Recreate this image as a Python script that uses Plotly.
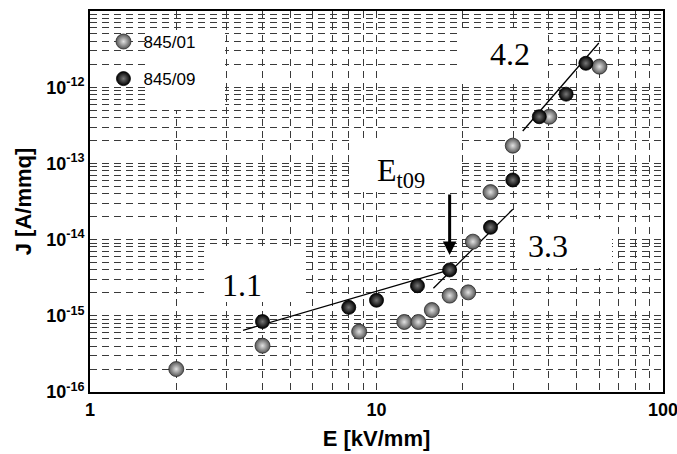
import numpy as np
import plotly.graph_objects as go

# ---- data ----
E01 = [2.0, 4.0, 8.7, 12.5, 14.0, 15.6, 18.0, 20.9, 21.7, 25.0, 29.9, 40.1, 60.0]
J01 = [2.0e-16, 4.05e-16, 6.2e-16, 8.3e-16, 8.3e-16, 1.19e-15, 1.84e-15, 2.03e-15,
       9.4e-15, 4.2e-14, 1.71e-13, 4.1e-13, 1.86e-12]
E09 = [4.0, 8.0, 10.0, 13.9, 18.0, 25.0, 29.9, 37.0, 45.9, 53.8]
J09 = [8.4e-16, 1.29e-15, 1.6e-15, 2.48e-15, 4.0e-15, 1.45e-14, 6.06e-14,
       4.1e-13, 8.1e-13, 2.06e-12]

fit1_E = [3.42, 18.5]
fit1_J = [6.45e-16, 4.13e-15]
fit2_E = [15.8, 29.9]
fit2_J = [2.3e-15, 2.5e-14]
fit3_E = [32.4, 59.7]
fit3_J = [2.66e-13, 3.8e-12]

series_names = ["845/01", "845/09"]
slope_labels = ["1.1", "3.3", "4.2"]
threshold_label = "E<sub>t09</sub>"
arrow_E = 18.0
arrow_J = 6.3e-15

x_tick_vals = [1, 10, 100]
x_tick_text = ["1", "10", "100"]
y_tick_exps = [-16, -15, -14, -13, -12]
y_tick_vals = [10.0 ** e for e in y_tick_exps]
y_tick_text = [f"10<sup>{e}</sup>" for e in y_tick_exps]

x_minor = [m * 10 ** d for d in range(0, 2) for m in range(2, 10)]
y_minor = [m * 10.0 ** d for d in range(-16, -11) for m in range(2, 10)]

GRID = "#3a3a3a"
DASH = "7px,5px"

fig = go.Figure()

for fx, fy in [(fit1_E, fit1_J), (fit2_E, fit2_J), (fit3_E, fit3_J)]:
    fig.add_trace(go.Scatter(x=fx, y=fy, mode="lines", showlegend=False,
                             line=dict(color="black", width=1.3), hoverinfo="skip"))

fig.add_trace(go.Scatter(
    x=E01, y=J01, mode="markers", name=series_names[0], legendgroup="a",
    marker=dict(size=15, color="#555555",
                gradient=dict(type="radial", color="#e2e2e2"),
                line=dict(color="#2a2a2a", width=0.8))))
fig.add_trace(go.Scatter(
    x=E09, y=J09, mode="markers", name=series_names[1], legendgroup="b",
    marker=dict(size=14, color="#000000",
                gradient=dict(type="radial", color="#777777"),
                line=dict(color="#000000", width=0.8))))

# white text boxes covering the grid (no marks fall inside them)
boxes = [(0.0995, 0.2356, 0.740, 0.950),   # legend text
         (0.6457, 0.7993, 0.8084, 0.9554),  # 4.2
         (0.459, 0.6405, 0.525, 0.6614),    # Et09
         (0.7417, 0.911, 0.3255, 0.454),    # 3.3
         (0.199, 0.375, 0.2362, 0.3832)]    # 1.1
for x0, x1, y0, y1 in boxes:
    fig.add_shape(type="rect", xref="paper", yref="paper",
                  x0=x0, x1=x1, y0=y0, y1=y1, layer="above",
                  fillcolor="white", line=dict(width=0))

serif = "Liberation Serif, Times New Roman, serif"
label_pos = [(0.265, 0.281), (0.799, 0.383), (0.733, 0.887)]
for txt, (px, py) in zip(slope_labels, label_pos):
    fig.add_annotation(text=txt, xref="paper", yref="paper", x=px, y=py,
                       xanchor="center", yanchor="middle",
                       showarrow=False, font=dict(family=serif, size=32, color="black"))
fig.add_annotation(text=threshold_label, xref="paper", yref="paper",
                   x=0.497, y=0.575, xanchor="left", yanchor="middle", showarrow=False,
                   font=dict(family=serif, size=32, color="black"))
fig.add_annotation(text="", x=np.log10(arrow_E), y=np.log10(arrow_J), xref="x", yref="y",
                   showarrow=True, ax=0, ay=-62, arrowhead=2, arrowsize=0.9,
                   arrowwidth=3, arrowcolor="black")

axis_font = dict(family="Arial, Liberation Sans, sans-serif", size=18, color="black", weight="bold")
title_font = dict(family="Arial, Liberation Sans, sans-serif", size=22, color="black", weight="bold")

fig.update_xaxes(type="log", range=[0, 2], tickmode="array", tickvals=x_tick_vals,
                 ticktext=x_tick_text, ticks="", tickfont=axis_font,
                 ticklabeloverflow="allow", automargin=False,
                 showgrid=True, gridcolor=GRID, gridwidth=1, griddash=DASH,
                 minor=dict(tickmode="array", tickvals=x_minor, showgrid=True,
                            gridcolor=GRID, gridwidth=1, griddash=DASH, ticks=""),
                 showline=True, linecolor="black", linewidth=2, mirror=True,
                 zeroline=False,
                 title=dict(text="E [kV/mm]", font=title_font, standoff=12))
fig.update_yaxes(type="log", range=[-16, -11], tickmode="array", tickvals=y_tick_vals,
                 ticktext=y_tick_text, ticks="", tickfont=axis_font, automargin=False,
                 showgrid=True, gridcolor=GRID, gridwidth=1, griddash=DASH,
                 minor=dict(tickmode="array", tickvals=y_minor, showgrid=True,
                            gridcolor=GRID, gridwidth=1, griddash=DASH, ticks=""),
                 showline=True, linecolor="black", linewidth=2, mirror=True,
                 zeroline=False,
                 title=dict(text="J [A/mmq]", font=title_font, standoff=8))

fig.update_layout(
    width=677, height=454,
    margin=dict(l=90, r=14, t=11, b=62, autoexpand=False),
    paper_bgcolor="white", plot_bgcolor="white",
    showlegend=True,
    legend=dict(x=0.0235, y=0.966, xanchor="left", yanchor="top",
                bgcolor="rgba(0,0,0,0)", traceorder="grouped", tracegroupgap=12,
                font=dict(family="Arial, Liberation Sans, sans-serif", size=17, color="black")),
)

fig.write_html("out.html")
